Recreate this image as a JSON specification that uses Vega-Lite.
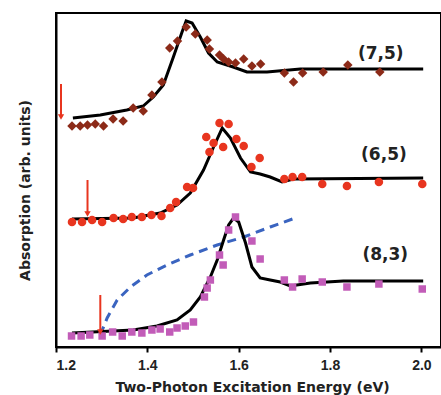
{
  "$schema": "https://vega.github.io/schema/vega-lite/v6.json",
  "width": 385,
  "height": 334,
  "autosize": "none",
  "padding": {"left": 56, "top": 13, "right": 0, "bottom": 48},
  "background": "white",
  "config": {
    "view": {"stroke": "black", "strokeWidth": 2},
    "font": "Liberation Sans"
  },
  "datasets": {
    "pts": [
      {"series": "(7,5)", "x": 1.235, "y": 2.21}, {"series": "(7,5)", "x": 1.253, "y": 2.21}, {"series": "(7,5)", "x": 1.269, "y": 2.22},
      {"series": "(7,5)", "x": 1.286, "y": 2.23}, {"series": "(7,5)", "x": 1.304, "y": 2.21}, {"series": "(7,5)", "x": 1.325, "y": 2.28},
      {"series": "(7,5)", "x": 1.347, "y": 2.26}, {"series": "(7,5)", "x": 1.369, "y": 2.39}, {"series": "(7,5)", "x": 1.391, "y": 2.36},
      {"series": "(7,5)", "x": 1.41, "y": 2.52}, {"series": "(7,5)", "x": 1.432, "y": 2.65}, {"series": "(7,5)", "x": 1.449, "y": 2.99},
      {"series": "(7,5)", "x": 1.466, "y": 3.06}, {"series": "(7,5)", "x": 1.485, "y": 3.2}, {"series": "(7,5)", "x": 1.505, "y": 3.13},
      {"series": "(7,5)", "x": 1.531, "y": 3.07}, {"series": "(7,5)", "x": 1.536, "y": 2.98}, {"series": "(7,5)", "x": 1.558, "y": 2.92},
      {"series": "(7,5)", "x": 1.567, "y": 2.88}, {"series": "(7,5)", "x": 1.578, "y": 2.85}, {"series": "(7,5)", "x": 1.593, "y": 2.84},
      {"series": "(7,5)", "x": 1.611, "y": 2.88}, {"series": "(7,5)", "x": 1.629, "y": 2.81}, {"series": "(7,5)", "x": 1.648, "y": 2.83},
      {"series": "(7,5)", "x": 1.7, "y": 2.74}, {"series": "(7,5)", "x": 1.72, "y": 2.65}, {"series": "(7,5)", "x": 1.74, "y": 2.74},
      {"series": "(7,5)", "x": 1.785, "y": 2.75}, {"series": "(7,5)", "x": 1.839, "y": 2.82}, {"series": "(7,5)", "x": 1.909, "y": 2.75},
      {"series": "(6,5)", "x": 1.235, "y": 1.25}, {"series": "(6,5)", "x": 1.257, "y": 1.25}, {"series": "(6,5)", "x": 1.279, "y": 1.27},
      {"series": "(6,5)", "x": 1.301, "y": 1.25}, {"series": "(6,5)", "x": 1.326, "y": 1.29}, {"series": "(6,5)", "x": 1.347, "y": 1.28},
      {"series": "(6,5)", "x": 1.366, "y": 1.3}, {"series": "(6,5)", "x": 1.388, "y": 1.3}, {"series": "(6,5)", "x": 1.409, "y": 1.32},
      {"series": "(6,5)", "x": 1.431, "y": 1.31}, {"series": "(6,5)", "x": 1.45, "y": 1.39}, {"series": "(6,5)", "x": 1.463, "y": 1.45},
      {"series": "(6,5)", "x": 1.487, "y": 1.6}, {"series": "(6,5)", "x": 1.5, "y": 1.59}, {"series": "(6,5)", "x": 1.529, "y": 2.1},
      {"series": "(6,5)", "x": 1.536, "y": 1.95}, {"series": "(6,5)", "x": 1.545, "y": 2.04}, {"series": "(6,5)", "x": 1.558, "y": 2.24},
      {"series": "(6,5)", "x": 1.578, "y": 2.23}, {"series": "(6,5)", "x": 1.566, "y": 2.0}, {"series": "(6,5)", "x": 1.595, "y": 2.08},
      {"series": "(6,5)", "x": 1.611, "y": 2.01}, {"series": "(6,5)", "x": 1.628, "y": 1.8}, {"series": "(6,5)", "x": 1.646, "y": 1.89},
      {"series": "(6,5)", "x": 1.7, "y": 1.68}, {"series": "(6,5)", "x": 1.718, "y": 1.7}, {"series": "(6,5)", "x": 1.739, "y": 1.7},
      {"series": "(6,5)", "x": 1.783, "y": 1.63}, {"series": "(6,5)", "x": 1.837, "y": 1.61}, {"series": "(6,5)", "x": 1.907, "y": 1.65},
      {"series": "(6,5)", "x": 2.002, "y": 1.63},
      {"series": "(8,3)", "x": 1.234, "y": 0.11}, {"series": "(8,3)", "x": 1.255, "y": 0.11}, {"series": "(8,3)", "x": 1.274, "y": 0.12},
      {"series": "(8,3)", "x": 1.301, "y": 0.11}, {"series": "(8,3)", "x": 1.324, "y": 0.15}, {"series": "(8,3)", "x": 1.345, "y": 0.11},
      {"series": "(8,3)", "x": 1.366, "y": 0.15}, {"series": "(8,3)", "x": 1.388, "y": 0.14}, {"series": "(8,3)", "x": 1.41, "y": 0.17},
      {"series": "(8,3)", "x": 1.428, "y": 0.18}, {"series": "(8,3)", "x": 1.449, "y": 0.15}, {"series": "(8,3)", "x": 1.465, "y": 0.19},
      {"series": "(8,3)", "x": 1.483, "y": 0.21}, {"series": "(8,3)", "x": 1.501, "y": 0.25}, {"series": "(8,3)", "x": 1.525, "y": 0.5},
      {"series": "(8,3)", "x": 1.531, "y": 0.59}, {"series": "(8,3)", "x": 1.538, "y": 0.67}, {"series": "(8,3)", "x": 1.558, "y": 0.92},
      {"series": "(8,3)", "x": 1.566, "y": 0.82}, {"series": "(8,3)", "x": 1.578, "y": 1.17}, {"series": "(8,3)", "x": 1.593, "y": 1.3},
      {"series": "(8,3)", "x": 1.629, "y": 1.06}, {"series": "(8,3)", "x": 1.647, "y": 0.88}, {"series": "(8,3)", "x": 1.7, "y": 0.67},
      {"series": "(8,3)", "x": 1.718, "y": 0.6}, {"series": "(8,3)", "x": 1.739, "y": 0.68}, {"series": "(8,3)", "x": 1.783, "y": 0.65},
      {"series": "(8,3)", "x": 1.837, "y": 0.6}, {"series": "(8,3)", "x": 1.907, "y": 0.63}, {"series": "(8,3)", "x": 2.002, "y": 0.58}
    ],
    "fits": [
      {"series": "(7,5)", "x": 1.237, "y": 2.29}, {"series": "(7,5)", "x": 1.297, "y": 2.32}, {"series": "(7,5)", "x": 1.355, "y": 2.37},
      {"series": "(7,5)", "x": 1.391, "y": 2.41}, {"series": "(7,5)", "x": 1.413, "y": 2.5}, {"series": "(7,5)", "x": 1.435, "y": 2.62},
      {"series": "(7,5)", "x": 1.457, "y": 2.9}, {"series": "(7,5)", "x": 1.476, "y": 3.15}, {"series": "(7,5)", "x": 1.485, "y": 3.26},
      {"series": "(7,5)", "x": 1.498, "y": 3.24}, {"series": "(7,5)", "x": 1.516, "y": 3.1}, {"series": "(7,5)", "x": 1.534, "y": 2.94},
      {"series": "(7,5)", "x": 1.553, "y": 2.85}, {"series": "(7,5)", "x": 1.588, "y": 2.8}, {"series": "(7,5)", "x": 1.618, "y": 2.75},
      {"series": "(7,5)", "x": 1.662, "y": 2.75}, {"series": "(7,5)", "x": 1.735, "y": 2.78}, {"series": "(7,5)", "x": 2.004, "y": 2.78},
      {"series": "(6,5)", "x": 1.235, "y": 1.28}, {"series": "(6,5)", "x": 1.369, "y": 1.29}, {"series": "(6,5)", "x": 1.428, "y": 1.34},
      {"series": "(6,5)", "x": 1.465, "y": 1.42}, {"series": "(6,5)", "x": 1.494, "y": 1.54}, {"series": "(6,5)", "x": 1.523, "y": 1.77},
      {"series": "(6,5)", "x": 1.545, "y": 2.0}, {"series": "(6,5)", "x": 1.564, "y": 2.19}, {"series": "(6,5)", "x": 1.582, "y": 2.09},
      {"series": "(6,5)", "x": 1.604, "y": 1.89}, {"series": "(6,5)", "x": 1.626, "y": 1.75}, {"series": "(6,5)", "x": 1.647, "y": 1.73},
      {"series": "(6,5)", "x": 1.669, "y": 1.7}, {"series": "(6,5)", "x": 1.695, "y": 1.65}, {"series": "(6,5)", "x": 1.72, "y": 1.68},
      {"series": "(6,5)", "x": 2.004, "y": 1.69},
      {"series": "(8,3)", "x": 1.235, "y": 0.14}, {"series": "(8,3)", "x": 1.369, "y": 0.17}, {"series": "(8,3)", "x": 1.421, "y": 0.21},
      {"series": "(8,3)", "x": 1.465, "y": 0.27}, {"series": "(8,3)", "x": 1.494, "y": 0.37}, {"series": "(8,3)", "x": 1.516, "y": 0.5},
      {"series": "(8,3)", "x": 1.538, "y": 0.7}, {"series": "(8,3)", "x": 1.553, "y": 0.87}, {"series": "(8,3)", "x": 1.567, "y": 1.07},
      {"series": "(8,3)", "x": 1.578, "y": 1.22}, {"series": "(8,3)", "x": 1.589, "y": 1.29}, {"series": "(8,3)", "x": 1.6, "y": 1.25},
      {"series": "(8,3)", "x": 1.615, "y": 1.04}, {"series": "(8,3)", "x": 1.629, "y": 0.8}, {"series": "(8,3)", "x": 1.647, "y": 0.69},
      {"series": "(8,3)", "x": 1.669, "y": 0.67}, {"series": "(8,3)", "x": 1.691, "y": 0.65}, {"series": "(8,3)", "x": 1.713, "y": 0.61},
      {"series": "(8,3)", "x": 1.757, "y": 0.64}, {"series": "(8,3)", "x": 1.829, "y": 0.66}, {"series": "(8,3)", "x": 2.004, "y": 0.66}
    ],
    "dash": [
      {"x": 1.297, "y": 0.12}, {"x": 1.312, "y": 0.29}, {"x": 1.334, "y": 0.47}, {"x": 1.363, "y": 0.6},
      {"x": 1.399, "y": 0.72}, {"x": 1.443, "y": 0.82}, {"x": 1.494, "y": 0.92}, {"x": 1.553, "y": 1.02},
      {"x": 1.611, "y": 1.1}, {"x": 1.669, "y": 1.2}, {"x": 1.724, "y": 1.29}
    ],
    "arrows": [
      {"x": 1.211, "top": 2.63, "bottom": 2.3},
      {"x": 1.269, "top": 1.67, "bottom": 1.33},
      {"x": 1.297, "top": 0.52, "bottom": 0.15}
    ],
    "labels": [
      {"label": "(7,5)", "x": 1.911, "y": 2.93},
      {"label": "(6,5)", "x": 1.918, "y": 1.92},
      {"label": "(8,3)", "x": 1.921, "y": 0.92}
    ]
  },
  "layer": [
    {
      "data": {"name": "dash"},
      "mark": {"type": "line", "color": "#3a64c0", "strokeWidth": 3, "strokeDash": [9, 6]},
      "encoding": {
        "x": {"field": "x", "type": "quantitative", "scale": {"domain": [1.2, 2.043], "nice": false, "zero": false},
          "axis": {"values": [1.2, 1.4, 1.6, 1.8, 2.0], "format": ".1f", "labelFont": "Liberation Sans", "labelFontSize": 14, "labelFontWeight": "bold", "labelColor": "#222", "tickColor": "black", "tickSize": 5, "tickWidth": 2, "domainColor": "black", "domainWidth": 2, "grid": false, "labelPadding": 6,
            "title": "Two-Photon Excitation Energy (eV)", "titleFont": "DejaVu Sans", "titleFontSize": 14, "titleFontWeight": "bold", "titleColor": "#222", "titlePadding": 8, "titleX": 196}},
        "y": {"field": "y", "type": "quantitative", "scale": {"domain": [0, 3.34], "nice": false},
          "axis": {"labels": false, "ticks": false, "grid": false, "domainColor": "black", "domainWidth": 2,
            "title": "Absorption (arb. units)", "titleFont": "DejaVu Sans", "titleFontSize": 14, "titleFontWeight": "bold", "titleColor": "#222", "titlePadding": 24, "titleY": 177}}
      }
    },
    {
      "data": {"name": "fits"},
      "mark": {"type": "line", "color": "black", "strokeWidth": 3},
      "encoding": {
        "x": {"field": "x", "type": "quantitative"},
        "y": {"field": "y", "type": "quantitative"},
        "detail": {"field": "series"}
      }
    },
    {
      "data": {"name": "pts"},
      "mark": {"type": "point", "filled": true, "opacity": 1},
      "encoding": {
        "x": {"field": "x", "type": "quantitative"},
        "y": {"field": "y", "type": "quantitative"},
        "color": {"field": "series", "type": "nominal", "scale": {"domain": ["(7,5)", "(6,5)", "(8,3)"], "range": ["#8c2a18", "#e8351f", "#c25cb8"]}, "legend": null},
        "shape": {"field": "series", "type": "nominal", "scale": {"domain": ["(7,5)", "(6,5)", "(8,3)"], "range": ["diamond", "circle", "square"]}, "legend": null},
        "size": {"field": "series", "type": "nominal", "scale": {"domain": ["(7,5)", "(6,5)", "(8,3)"], "range": [90, 56, 52]}, "legend": null}
      }
    },
    {
      "data": {"name": "arrows"},
      "mark": {"type": "rule", "color": "#e8351f", "strokeWidth": 2},
      "encoding": {
        "x": {"field": "x", "type": "quantitative"},
        "y": {"field": "top", "type": "quantitative"},
        "y2": {"field": "bottom"}
      }
    },
    {
      "data": {"name": "arrows"},
      "mark": {"type": "point", "shape": "triangle-down", "filled": true, "color": "#e8351f", "size": 40, "opacity": 1},
      "encoding": {
        "x": {"field": "x", "type": "quantitative"},
        "y": {"field": "bottom", "type": "quantitative"}
      }
    },
    {
      "data": {"name": "labels"},
      "mark": {"type": "text", "font": "DejaVu Sans", "fontSize": 17, "fontWeight": "bold", "color": "#222", "align": "center", "baseline": "middle"},
      "encoding": {
        "x": {"field": "x", "type": "quantitative"},
        "y": {"field": "y", "type": "quantitative"},
        "text": {"field": "label"}
      }
    }
  ]
}
